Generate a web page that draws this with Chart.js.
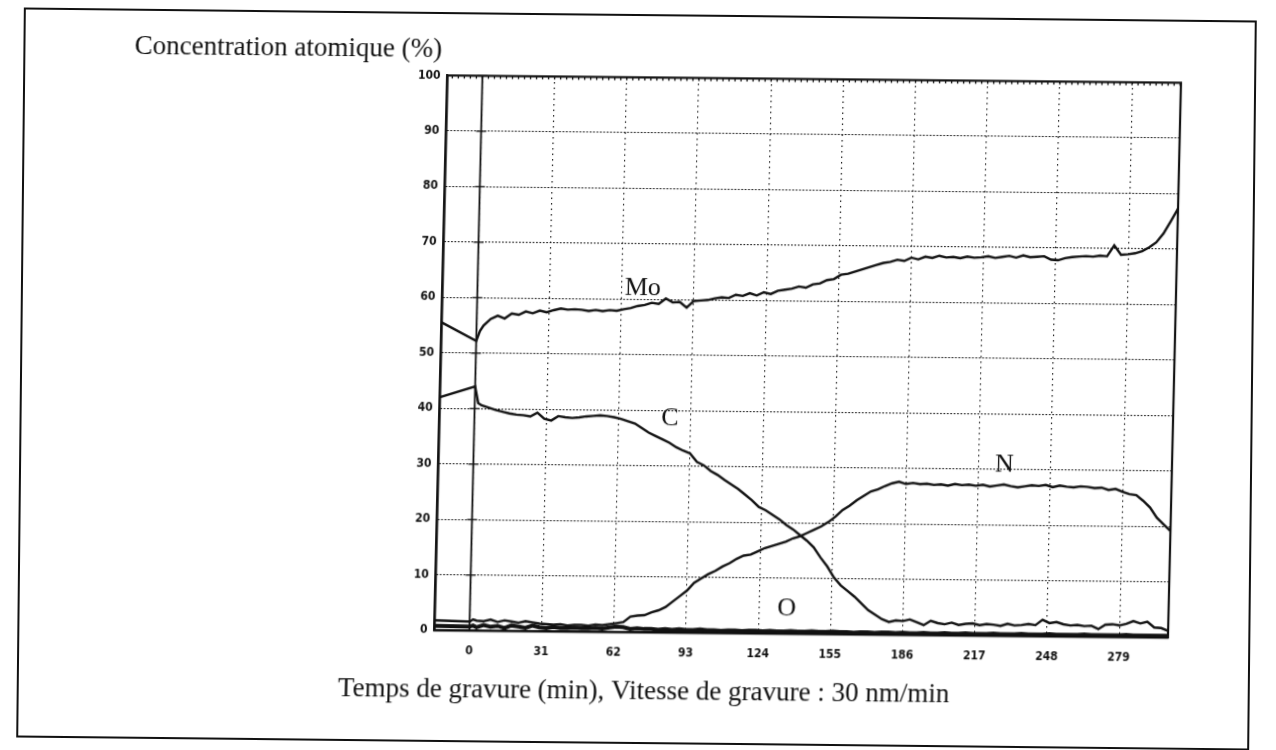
<!DOCTYPE html>
<html>
<head>
<meta charset="utf-8">
<title>Concentration atomique</title>
<script src="https://cdn.jsdelivr.net/npm/chart.js@4.4.1/dist/chart.umd.min.js"></script>
<style>
  html, body { margin: 0; padding: 0; background: #fff; }
  #sheet { position: relative; width: 1276px; height: 750px; overflow: hidden; background: #fff; }
  #frame { position: absolute; left: 20px; top: 14px; width: 1233px; height: 730px;
           border: 2px solid #111; box-sizing: border-box; transform: rotate(0.6deg); }
  #plot { position: absolute; left: 0; top: 0; width: 1276px; height: 750px;
          transform: matrix(1, 0.01, -0.0235, 1, 0, 0); transform-origin: 638px 375px; }
  #box { position: absolute; left: 127px; top: 36px; width: 1049px; height: 672px; }
</style>
</head>
<body>
<div id="sheet">
  <div id="frame"></div>
  <div id="plot"><div id="box"><canvas id="c"></canvas></div></div>
</div>
<script>
// Sputter time (min)
const timeMin = [-15, 0, 1.5,
  3, 6, 9, 12, 15, 18, 21, 24, 27, 30,
  33, 36, 39, 42, 45, 48, 51, 54, 57, 60,
  63, 66, 69, 72, 75, 78, 81, 84, 87, 90,
  93, 96, 99, 102, 105, 108, 111, 114, 117, 120,
  123, 126, 129, 132, 135, 138, 141, 144, 147, 150,
  153, 156, 159, 162, 165, 168, 171, 174, 177, 180,
  183, 186, 189, 192, 195, 198, 201, 204, 207, 210,
  213, 216, 219, 222, 225, 228, 231, 234, 237, 240,
  243, 246, 249, 252, 255, 258, 261, 264, 267, 270,
  273, 276, 279, 282, 285, 288, 291, 294, 297, 300];

// Atomic concentrations (%)
const moPct = [55.5, 52.2, 54.0,
  55.0, 56.2, 56.8, 56.3, 57.2, 57.0, 57.6, 57.3, 57.8, 57.5,
  57.9, 58.2, 58.0, 58.1, 58.0, 57.8, 58.0, 57.8, 58.0, 57.9,
  58.2, 58.4, 58.8, 59.0, 59.4, 59.2, 60.2, 59.5, 59.6, 58.6,
  59.8, 59.9, 60.0, 60.3, 60.5, 60.4, 61.0, 60.8, 61.3, 60.9,
  61.5, 61.2, 61.8, 62.0, 62.2, 62.6, 62.4, 63.0, 63.2, 63.8,
  64.0, 64.8, 65.0, 65.4, 65.8, 66.2, 66.6, 67.0, 67.2, 67.6,
  67.4, 68.0, 67.7, 68.2, 68.0, 68.4, 68.1, 68.2, 68.0, 68.3,
  68.1, 68.2, 68.4, 68.1, 68.3, 68.5, 68.2, 68.6, 68.3, 68.4,
  68.5, 67.9, 67.8, 68.2, 68.4, 68.5, 68.6, 68.5, 68.7, 68.6,
  70.6, 68.9, 69.0, 69.2, 69.6, 70.3, 71.2, 72.8, 75.0, 77.3];

const cPct = [42.0, 44.0, 41.0,
  40.6, 40.2, 39.8, 39.5, 39.2, 39.0, 38.9, 38.7, 39.4, 38.3,
  38.0, 38.8, 38.6, 38.5, 38.6, 38.8, 38.9, 39.0, 38.9, 38.7,
  38.4, 38.0, 37.6, 36.8, 36.0, 35.4, 34.8, 34.2, 33.4, 32.8,
  32.3, 30.8, 30.2, 29.2, 28.5, 27.6, 26.8, 26.0, 25.0, 24.0,
  22.8, 22.2, 21.4, 20.6, 19.6, 18.8, 17.8, 16.8, 15.6, 13.8,
  12.2, 10.2, 8.8, 7.8, 6.8, 5.6, 4.4, 3.6, 2.8, 2.3,
  2.6, 2.5, 2.8, 2.3, 1.8, 2.6, 2.2, 2.0, 2.3, 1.9,
  2.1, 2.2, 1.9, 2.1, 2.0, 1.8, 2.2, 1.9, 2.0, 2.2,
  2.0, 3.0, 2.4, 2.6, 2.2, 2.0, 2.1, 1.9, 2.0, 1.4,
  2.2, 2.3, 2.1, 2.4, 2.9, 2.5, 2.8, 1.8, 1.7, 1.2];

const nPct = [1.8, 1.6, 2.0,
  1.8, 1.7, 2.0, 1.6, 1.9, 1.7, 1.5, 1.8, 1.6, 1.4,
  1.3, 1.2, 1.3, 1.1, 1.2, 1.2, 1.1, 1.3, 1.2, 1.4,
  1.6, 1.8, 2.8, 3.0, 3.1, 3.6, 4.0, 4.6, 5.6, 6.6,
  7.6, 9.0, 9.8, 10.6, 11.2, 12.0, 12.6, 13.4, 14.0, 14.2,
  14.8, 15.4, 15.8, 16.2, 16.6, 17.2, 17.6, 18.2, 18.8, 19.4,
  20.2, 21.2, 22.4, 23.2, 24.2, 25.0, 25.8, 26.2, 26.8, 27.3,
  27.6, 27.2, 27.4, 27.2, 27.3, 27.1, 27.2, 27.0, 27.3, 27.1,
  27.2, 27.0, 27.2, 26.9, 27.1, 27.3, 27.0, 26.8, 27.0, 27.2,
  27.1, 27.3, 26.9, 27.2, 27.0, 26.9, 27.1, 27.0, 26.8, 26.9,
  26.5, 26.7, 26.2, 25.8, 25.6, 24.6, 23.4, 21.6, 20.4, 19.2];

const oPct = [0.8, 0.7, 0.9,
  0.6, 1.0, 0.7, 0.9, 0.5, 1.0, 0.8, 0.6, 1.0, 0.7,
  0.6, 0.8, 0.6, 0.6, 0.7, 0.6, 0.6, 0.7, 0.6, 0.8,
  1.0, 0.9, 0.6, 0.7, 0.6, 0.6, 0.5, 0.6, 0.5, 0.6,
  0.5, 0.5, 0.6, 0.5, 0.5, 0.4, 0.5, 0.5, 0.4, 0.5,
  0.5, 0.4, 0.5, 0.4, 0.4, 0.5, 0.4, 0.4, 0.5, 0.4,
  0.4, 0.5, 0.4, 0.4, 0.3, 0.4, 0.4, 0.3, 0.4, 0.4,
  0.3, 0.4, 0.3, 0.3, 0.4, 0.3, 0.3, 0.4, 0.3, 0.3,
  0.4, 0.3, 0.3, 0.3, 0.4, 0.3, 0.3, 0.3, 0.4, 0.3,
  0.3, 0.3, 0.4, 0.3, 0.3, 0.3, 0.3, 0.4, 0.3, 0.3,
  0.3, 0.3, 0.3, 0.4, 0.3, 0.3, 0.3, 0.3, 0.3, 0.3];

// Axis ticks
const xTickValues = [0, 31, 62, 93, 124, 155, 186, 217, 248, 279];
const yTickValues = [0, 10, 20, 30, 40, 50, 60, 70, 80, 90, 100];

// Element names and where each name sits (time, %)
const elementNames = ['Mo', 'C', 'N', 'O'];
const nameAnchorTime = [71, 84, 228, 136];
const nameAnchorPct = [62, 38.5, 30.8, 4.5];

const INK = '#111';
const serif = "'Liberation Serif', 'Times New Roman', serif";
const tickFont = { family: "'DejaVu Sans Condensed', 'DejaVu Sans', sans-serif", size: 12, weight: 'bold' };

function toPoints(values) {
  return timeMin.map((t, i) => ({ x: t, y: values[i] }));
}

// Plot frame, origin marker, top minor ticks and element names
const plotDecor = {
  id: 'plotDecor',
  beforeDatasetsDraw(chart) {
    const { ctx, chartArea: a, scales: { x, y } } = chart;
    ctx.save();
    ctx.strokeStyle = INK;
    ctx.lineWidth = 2.2;
    ctx.strokeRect(a.left, a.top, a.right - a.left, a.bottom - a.top);
    const x0 = x.getPixelForValue(0);
    ctx.lineWidth = 1.8;
    ctx.beginPath(); ctx.moveTo(x0, a.top); ctx.lineTo(x0, a.bottom); ctx.stroke();
    ctx.lineWidth = 1.3;
    yTickValues.forEach(v => {
      const py = y.getPixelForValue(v);
      ctx.beginPath(); ctx.moveTo(x0 - 5, py); ctx.lineTo(x0 + 5, py); ctx.stroke();
    });
    const minorStep = 31 / 12;
    for (let k = Math.ceil(x.min / minorStep); k * minorStep <= x.max; k++) {
      const px = x.getPixelForValue(k * minorStep);
      ctx.beginPath(); ctx.moveTo(px, a.top); ctx.lineTo(px, a.top + 3); ctx.stroke();
    }
    ctx.restore();
  },
  afterDatasetsDraw(chart) {
    const { ctx, scales: { x, y } } = chart;
    ctx.save();
    ctx.fillStyle = INK;
    ctx.font = '26px ' + serif;
    ctx.textAlign = 'center';
    ctx.textBaseline = 'middle';
    elementNames.forEach((name, i) => {
      ctx.fillText(name, x.getPixelForValue(nameAnchorTime[i]), y.getPixelForValue(nameAnchorPct[i]));
    });
    ctx.restore();
  }
};

const traceStyle = { borderColor: INK, borderWidth: 2.4, pointRadius: 0, tension: 0, fill: false };

new Chart(document.getElementById('c'), {
  type: 'line',
  data: {
    datasets: [
      { label: 'Mo', data: toPoints(moPct), ...traceStyle },
      { label: 'C', data: toPoints(cPct), ...traceStyle },
      { label: 'N', data: toPoints(nPct), ...traceStyle },
      { label: 'O', data: toPoints(oPct), ...traceStyle, borderWidth: 4 }
    ]
  },
  options: {
    responsive: true,
    maintainAspectRatio: false,
    animation: false,
    layout: { padding: { left: 0, right: 1, top: 0, bottom: 0 } },
    scales: {
      x: {
        type: 'linear',
        min: -15,
        max: 300,
        afterBuildTicks: s => { s.ticks = xTickValues.map(v => ({ value: v })); },
        ticks: { color: INK, font: tickFont, padding: 13, maxRotation: 0, autoSkip: false,
                 callback: v => String(v) },
        grid: { color: '#000', lineWidth: 1.1, drawTicks: false },
        border: { display: true, color: INK, width: 2.2, dash: [1.5, 4] }
      },
      y: {
        min: 0,
        max: 100,
        afterBuildTicks: s => { s.ticks = yTickValues.map(v => ({ value: v })); },
        afterFit: s => { s.width = 313.5; },
        ticks: { color: INK, font: tickFont, padding: 7, autoSkip: false, callback: v => String(v) },
        grid: { color: '#000', lineWidth: 1.1, drawTicks: false },
        border: { display: true, color: INK, width: 2.2, dash: [1.7, 1.7] }
      }
    },
    plugins: {
      legend: { display: false },
      tooltip: { enabled: false },
      title: {
        display: true,
        text: 'Concentration atomique (%)',
        align: 'start',
        color: INK,
        font: { family: serif, size: 27, weight: 'normal' },
        padding: { top: 0, bottom: 9 }
      },
      subtitle: {
        display: true,
        position: 'bottom',
        text: 'Temps de gravure (min), Vitesse de gravure : 30 nm/min',
        color: INK,
        font: { family: serif, size: 27, weight: 'normal' },
        padding: { top: 3, bottom: 0 }
      }
    }
  },
  plugins: [plotDecor]
});
</script>
</body>
</html>
